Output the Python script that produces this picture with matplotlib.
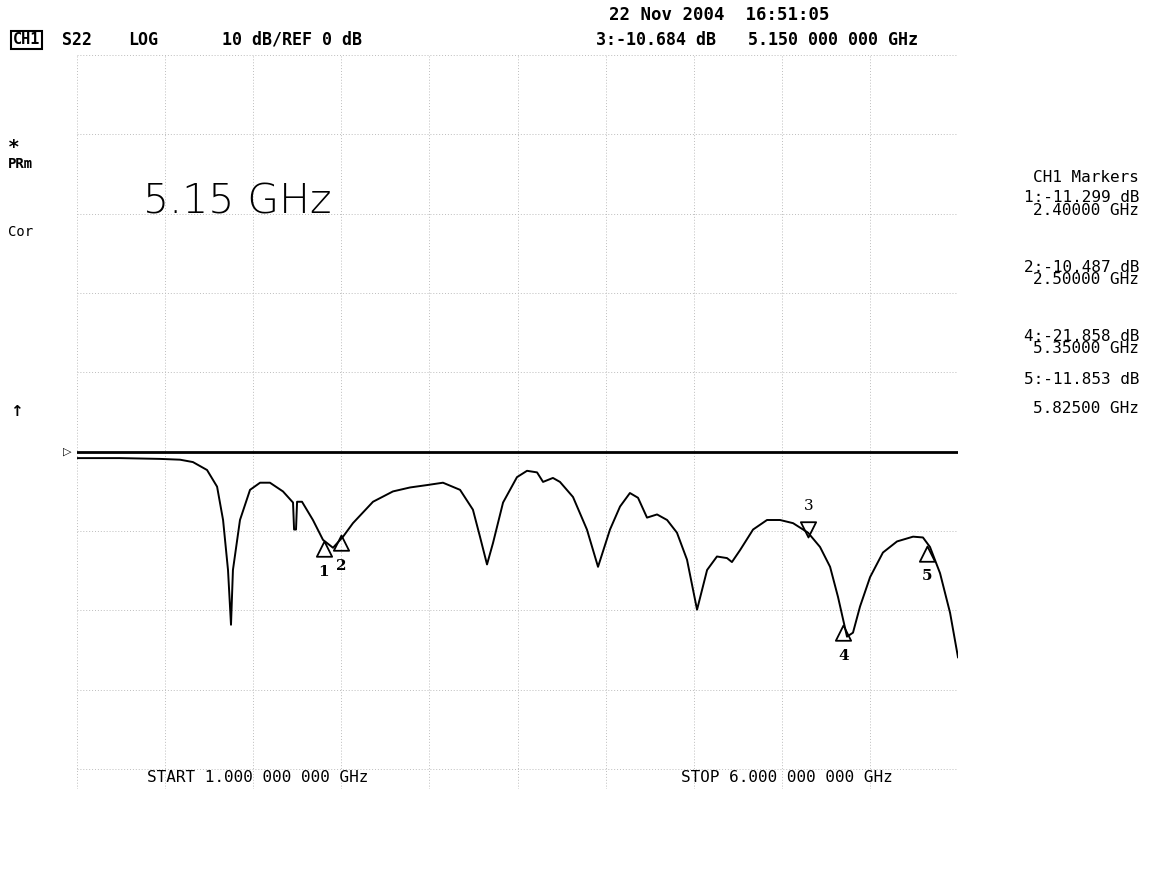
import numpy as np
import matplotlib
matplotlib.use('Agg')
import matplotlib.pyplot as plt
from matplotlib.path import Path

# S22 trace (frequency in GHz, level in dB)
freq_ghz = [1.000, 1.244, 1.471, 1.585, 1.658, 1.738, 1.795, 1.829, 1.857, 1.874,
            1.885, 1.925, 1.982, 2.039, 2.095, 2.169, 2.226, 2.232, 2.243, 2.249,
            2.277, 2.339, 2.396, 2.453, 2.510, 2.566, 2.680, 2.793, 2.890, 2.986,
            3.077, 3.174, 3.247, 3.287, 3.327, 3.361, 3.418, 3.497, 3.554, 3.611,
            3.645, 3.701, 3.741, 3.815, 3.894, 3.957, 4.025, 4.082, 4.138, 4.184,
            4.235, 4.292, 4.349, 4.405, 4.462, 4.519, 4.576, 4.632, 4.689, 4.717,
            4.763, 4.837, 4.916, 4.990, 5.064, 5.149, 5.217, 5.274, 5.319, 5.370,
            5.404, 5.444, 5.501, 5.574, 5.654, 5.745, 5.801, 5.841, 5.898, 5.955,
            6.000]
s22_db = [-0.8, -0.8, -0.9, -1.0, -1.3, -2.3, -4.4, -8.6, -14.9, -21.8,
          -14.9, -8.6, -4.8, -3.9, -3.9, -5.0, -6.4, -9.8, -9.8, -6.3,
          -6.3, -8.6, -11.1, -12.1, -10.7, -9.0, -6.3, -5.0, -4.5, -4.2,
          -3.9, -4.8, -7.3, -10.7, -14.2, -11.5, -6.4, -3.2, -2.4, -2.6,
          -3.8, -3.3, -3.8, -5.7, -9.8, -14.5, -9.8, -6.9, -5.2, -5.8,
          -8.3, -7.9, -8.6, -10.2, -13.6, -19.9, -14.9, -13.2, -13.4, -13.9,
          -12.4, -9.8, -8.6, -8.6, -9.0, -10.2, -12.0, -14.5, -18.3, -23.3,
          -22.8, -19.5, -15.8, -12.7, -11.3, -10.7, -10.8, -12.0, -15.3, -20.3,
          -25.9]

# markers (number, GHz, dB)
marker_num = ['1', '2', '3', '4', '5']
marker_freq = [2.40, 2.50, 5.15, 5.35, 5.825]
marker_db = [-11.299, -10.487, -10.684, -21.858, -11.853]

start_ghz = 1.0
stop_ghz = 6.0
ref_db = 0.0
scale_db = 10.0
top_db = 50.0
bottom_db = -42.5

header_left = ['S22', 'LOG', '10 dB/REF 0 dB']
# right-hand marker table: (label, y pixel of its centre)
marker_table = [('CH1 Markers', 178),
                ('1:-11.299 dB\n2.40000 GHz', 204),
                ('2:-10.487 dB\n2.50000 GHz', 273.5),
                ('4:-21.858 dB\n5.35000 GHz', 342.5),
                ('5:-11.853 dB', 380),
                ('5.82500 GHz', 408)]

W, H = 1149, 877
fig = plt.figure(figsize=(W / 100, H / 100), dpi=100)
ax = fig.add_axes([77 / W, 1 - 789 / H, (958 - 77) / W, (789 - 55) / H])

mono = 'DejaVu Sans Mono'

def px(x, y):
    return x / W, 1 - y / H

# graticule
ax.set_xlim(start_ghz, stop_ghz)
ax.set_ylim(bottom_db, top_db)
ax.set_xticks(np.arange(start_ghz, stop_ghz + 0.01, 0.5))
ax.set_yticks(np.arange(-40, top_db + 1, scale_db))
ax.grid(True, color='#bdbdbd', linestyle=(0, (1, 2)), linewidth=0.7)
ax.tick_params(length=0, labelbottom=False, labelleft=False)
for s in ax.spines.values():
    s.set_visible(False)

# reference line
ax.axhline(ref_db, color='black', lw=2.0)
ax.annotate('\u25b7', xy=(start_ghz, ref_db), xytext=(-7, 0), textcoords='offset points',
            ha='center', va='center', fontsize=8, annotation_clip=False)

# trace
ax.plot(freq_ghz, s22_db, color='black', lw=1.4)

# marker symbols
tri_up = Path([(0, 0), (-1, -2), (1, -2), (0, 0)], [1, 2, 2, 79])
tri_dn = Path([(0, 0), (-1, 2), (1, 2), (0, 0)], [1, 2, 2, 79])
for n, f, d in zip(marker_num, marker_freq, marker_db):
    if n == '3':
        ax.plot([f], [d], marker=tri_dn, ms=22, mfc='none', mec='black', mew=1.3)
        ax.annotate(n, xy=(f, d), xytext=(0, 22), textcoords='offset points',
                    ha='center', va='center', fontsize=11, family='DejaVu Serif')
    else:
        ax.plot([f], [d], marker=tri_up, ms=22, mfc='none', mec='black', mew=1.3)
        ax.annotate(n, xy=(f, d), xytext=(0, -22), textcoords='offset points',
                    ha='center', va='center', fontsize=11, family='DejaVu Serif',
                    fontweight='bold')

# header text
fig.text(*px(609, 15), '22 Nov 2004  16:51:05', family=mono, fontsize=12.5,
         fontweight='bold', va='center')
fig.text(*px(13, 40), 'CH1', family=mono, fontsize=11, fontweight='bold', va='center',
         bbox=dict(boxstyle='square,pad=0.1', fc='white', ec='black', lw=1.5))
for label, x in zip(header_left, [62, 128, 222]):
    fig.text(*px(x, 40), label, family=mono, fontsize=12, fontweight='bold', va='center')
fig.text(*px(596, 40), '3:-10.684 dB', family=mono, fontsize=12, fontweight='bold', va='center')
fig.text(*px(748, 40), '5.150 000 000 GHz', family=mono, fontsize=12, fontweight='bold',
         va='center')

fig.text(*px(14, 148), '*', family=mono, fontsize=14, fontweight='bold', va='center', ha='center')
fig.text(*px(8, 164), 'PRm', family=mono, fontsize=10, fontweight='bold', va='center')
fig.text(*px(8, 232), 'Cor', family=mono, fontsize=10, va='center')
fig.text(*px(16, 412), '\u2191', family='DejaVu Sans', fontsize=11, fontweight='bold',
         va='center', ha='center')

fig.text(*px(143, 202), '5.15 GHz', family='DejaVu Sans', fontweight='light',
         fontsize=29.5, va='center')

# marker table on the right
for label, y in marker_table:
    fig.text(*px(1139, y), label, family=mono, fontsize=11.5, va='center', ha='right',
             multialignment='right', linespacing=0.82)

fig.text(*px(147, 778), 'START 1.000 000 000 GHz', family=mono, fontsize=11.5, va='center')
fig.text(*px(681, 778), 'STOP 6.000 000 000 GHz', family=mono, fontsize=11.5, va='center')

fig.savefig('out.png', dpi=100, facecolor='white')
